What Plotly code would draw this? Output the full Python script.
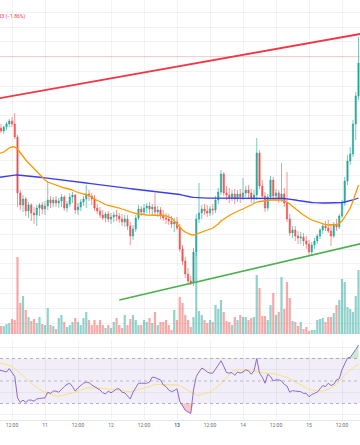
import numpy as np
import pandas as pd
import plotly.graph_objects as go

# ---------------- data (hourly candles) ----------------
times = pd.date_range("2024-05-10 07:00", periods=132, freq="h")

open_ = [1.869, 1.872, 1.869, 1.873, 1.876, 1.879, 1.876, 1.863, 1.807, 1.795,
         1.801, 1.789, 1.795, 1.787, 1.785, 1.792, 1.795, 1.791, 1.794, 1.800,
         1.797, 1.800, 1.797, 1.799, 1.803, 1.792, 1.796, 1.803, 1.805, 1.790,
         1.793, 1.798, 1.801, 1.806, 1.804, 1.801, 1.792, 1.789, 1.785, 1.782,
         1.786, 1.781, 1.783, 1.785, 1.784, 1.781, 1.778, 1.781, 1.774, 1.764,
         1.771, 1.782, 1.791, 1.788, 1.792, 1.794, 1.791, 1.793, 1.788, 1.790,
         1.785, 1.782, 1.781, 1.779, 1.776, 1.778, 1.772, 1.751, 1.739, 1.726,
         1.719, 1.717, 1.748, 1.781, 1.787, 1.791, 1.789, 1.787, 1.791, 1.790,
         1.800, 1.808, 1.826, 1.807, 1.805, 1.802, 1.806, 1.801, 1.806, 1.803,
         1.807, 1.810, 1.807, 1.801, 1.805, 1.847, 1.814, 1.804, 1.792, 1.803,
         1.820, 1.804, 1.807, 1.801, 1.806, 1.797, 1.781, 1.767, 1.770, 1.764,
         1.762, 1.763, 1.759, 1.756, 1.748, 1.755, 1.759, 1.764, 1.770, 1.774,
         1.772, 1.769, 1.764, 1.775, 1.773, 1.784, 1.797, 1.819, 1.839, 1.846,
         1.876, 1.904]
high = [1.875, 1.876, 1.874, 1.878, 1.881, 1.883, 1.887, 1.865, 1.810, 1.805,
        1.803, 1.798, 1.797, 1.793, 1.795, 1.797, 1.798, 1.799, 1.818, 1.804,
        1.803, 1.804, 1.802, 1.806, 1.805, 1.799, 1.807, 1.808, 1.806, 1.797,
        1.801, 1.804, 1.815, 1.810, 1.807, 1.805, 1.796, 1.793, 1.790, 1.788,
        1.789, 1.787, 1.788, 1.790, 1.787, 1.786, 1.785, 1.785, 1.778, 1.775,
        1.785, 1.795, 1.794, 1.796, 1.797, 1.798, 1.796, 1.807, 1.794, 1.793,
        1.790, 1.787, 1.786, 1.784, 1.782, 1.783, 1.776, 1.755, 1.743, 1.732,
        1.724, 1.752, 1.786, 1.817, 1.795, 1.796, 1.795, 1.794, 1.796, 1.804,
        1.812, 1.830, 1.828, 1.814, 1.812, 1.810, 1.811, 1.810, 1.811, 1.822,
        1.814, 1.815, 1.811, 1.810, 1.862, 1.850, 1.820, 1.808, 1.806, 1.824,
        1.823, 1.811, 1.810, 1.837, 1.812, 1.828, 1.786, 1.774, 1.774, 1.769,
        1.768, 1.767, 1.764, 1.760, 1.758, 1.762, 1.766, 1.772, 1.776, 1.779,
        1.780, 1.776, 1.778, 1.781, 1.786, 1.800, 1.823, 1.845, 1.853, 1.880,
        1.908, 1.963]
low = [1.866, 1.867, 1.866, 1.870, 1.873, 1.873, 1.861, 1.793, 1.790, 1.788,
       1.784, 1.782, 1.779, 1.776, 1.774, 1.784, 1.786, 1.785, 1.790, 1.792,
       1.793, 1.793, 1.792, 1.793, 1.789, 1.788, 1.793, 1.797, 1.786, 1.785,
       1.789, 1.794, 1.792, 1.799, 1.795, 1.789, 1.786, 1.782, 1.780, 1.778,
       1.778, 1.776, 1.778, 1.779, 1.777, 1.774, 1.773, 1.770, 1.755, 1.760,
       1.768, 1.780, 1.784, 1.786, 1.787, 1.786, 1.784, 1.784, 1.783, 1.781,
       1.779, 1.776, 1.775, 1.772, 1.768, 1.770, 1.748, 1.735, 1.722, 1.715,
       1.715, 1.714, 1.744, 1.777, 1.781, 1.785, 1.783, 1.784, 1.785, 1.787,
       1.796, 1.805, 1.804, 1.800, 1.797, 1.799, 1.796, 1.798, 1.797, 1.800,
       1.803, 1.801, 1.797, 1.796, 1.800, 1.811, 1.801, 1.788, 1.789, 1.799,
       1.800, 1.799, 1.797, 1.798, 1.793, 1.778, 1.764, 1.762, 1.759, 1.756,
       1.756, 1.754, 1.751, 1.744, 1.745, 1.751, 1.756, 1.761, 1.766, 1.769,
       1.767, 1.754, 1.762, 1.769, 1.771, 1.782, 1.794, 1.815, 1.835, 1.843,
       1.860, 1.900]
close = [1.872, 1.869, 1.873, 1.876, 1.879, 1.876, 1.863, 1.807, 1.795, 1.801,
         1.789, 1.795, 1.787, 1.785, 1.792, 1.795, 1.791, 1.794, 1.800, 1.797,
         1.800, 1.797, 1.799, 1.803, 1.792, 1.796, 1.803, 1.805, 1.790, 1.793,
         1.798, 1.801, 1.806, 1.804, 1.801, 1.792, 1.789, 1.785, 1.782, 1.786,
         1.781, 1.783, 1.785, 1.784, 1.781, 1.778, 1.781, 1.774, 1.764, 1.771,
         1.782, 1.791, 1.788, 1.792, 1.794, 1.791, 1.793, 1.788, 1.790, 1.785,
         1.782, 1.781, 1.779, 1.776, 1.778, 1.772, 1.751, 1.739, 1.726, 1.719,
         1.717, 1.748, 1.781, 1.787, 1.791, 1.789, 1.787, 1.791, 1.790, 1.800,
         1.808, 1.826, 1.807, 1.805, 1.802, 1.806, 1.801, 1.806, 1.803, 1.807,
         1.810, 1.807, 1.801, 1.805, 1.847, 1.814, 1.804, 1.792, 1.803, 1.820,
         1.804, 1.807, 1.801, 1.806, 1.797, 1.781, 1.767, 1.770, 1.764, 1.762,
         1.763, 1.759, 1.756, 1.748, 1.755, 1.759, 1.764, 1.770, 1.774, 1.772,
         1.769, 1.764, 1.775, 1.773, 1.784, 1.797, 1.819, 1.839, 1.846, 1.876,
         1.904, 1.937]
volume_k = [8, 8, 8, 10, 11, 15, 14, 77, 31, 38,
            24, 17, 13, 15, 11, 17, 10, 9, 26, 9,
            8, 5, 16, 19, 12, 7, 9, 12, 16, 12,
            9, 16, 22, 14, 9, 14, 9, 14, 9, 6,
            9, 6, 12, 16, 9, 6, 19, 9, 15, 19,
            14, 9, 9, 14, 12, 16, 11, 22, 9, 12,
            12, 14, 9, 4, 24, 14, 37, 31, 19, 14,
            7, 17, 81, 23, 19, 14, 11, 14, 12, 29,
            25, 34, 22, 13, 12, 9, 17, 14, 19, 17,
            17, 14, 16, 17, 59, 46, 18, 18, 14, 29,
            41, 19, 22, 57, 25, 52, 36, 13, 12, 8,
            12, 5, 7, 3, 4, 4, 14, 15, 16, 12,
            17, 17, 21, 29, 34, 55, 52, 27, 25, 22,
            38, 64]
ema_fast = [1.846, 1.847, 1.848, 1.850, 1.852, 1.853, 1.853, 1.851, 1.847, 1.843,
            1.840, 1.837, 1.834, 1.832, 1.829, 1.826, 1.823, 1.820, 1.818, 1.817,
            1.816, 1.8145, 1.8135, 1.813, 1.812, 1.8115, 1.811, 1.810, 1.8085, 1.8075,
            1.807, 1.806, 1.8055, 1.8045, 1.803, 1.801, 1.7995, 1.798, 1.797, 1.7955,
            1.7945, 1.794, 1.793, 1.7925, 1.792, 1.791, 1.790, 1.789, 1.788, 1.787,
            1.7865, 1.786, 1.786, 1.7855, 1.785, 1.785, 1.785, 1.785, 1.785, 1.785,
            1.7845, 1.784, 1.783, 1.782, 1.779, 1.776, 1.772, 1.770, 1.768, 1.7665,
            1.7655, 1.765, 1.766, 1.767, 1.7675, 1.769, 1.770, 1.7705, 1.772, 1.774,
            1.776, 1.779, 1.781, 1.783, 1.7845, 1.786, 1.7875, 1.789, 1.790, 1.791,
            1.7925, 1.794, 1.7955, 1.7965, 1.798, 1.7985, 1.799, 1.7995, 1.800, 1.800,
            1.800, 1.800, 1.800, 1.800, 1.799, 1.798, 1.796, 1.7935, 1.791, 1.789,
            1.787, 1.785, 1.783, 1.7815, 1.780, 1.779, 1.778, 1.777, 1.776, 1.7755,
            1.775, 1.775, 1.775, 1.7755, 1.7765, 1.779, 1.783, 1.787, 1.792, 1.799,
            1.807, 1.815]
ma_slow = [1.8225, 1.823, 1.8235, 1.824, 1.8243, 1.8245, 1.8248, 1.825, 1.8248, 1.8245,
           1.8242, 1.824, 1.8237, 1.8234, 1.823, 1.8228, 1.8225, 1.8222, 1.8219, 1.8216,
           1.8212, 1.8209, 1.8206, 1.8202, 1.8198, 1.8194, 1.819, 1.8187, 1.8184, 1.818,
           1.8177, 1.8173, 1.817, 1.8166, 1.8162, 1.8158, 1.8155, 1.8151, 1.8148, 1.8144,
           1.814, 1.8137, 1.8134, 1.813, 1.8127, 1.8124, 1.812, 1.8116, 1.8113, 1.811,
           1.8107, 1.8103, 1.810, 1.8097, 1.8094, 1.809, 1.8087, 1.8084, 1.808, 1.8077,
           1.8074, 1.8071, 1.8068, 1.8065, 1.8063, 1.806, 1.8055, 1.8048, 1.804, 1.8035,
           1.803, 1.8027, 1.8024, 1.8022, 1.802, 1.8019, 1.8018, 1.8018, 1.8018, 1.8018,
           1.8018, 1.8018, 1.8018, 1.8019, 1.802, 1.802, 1.802, 1.802, 1.802, 1.802,
           1.802, 1.802, 1.802, 1.802, 1.802, 1.802, 1.8019, 1.8018, 1.8018, 1.8018,
           1.8018, 1.8017, 1.8016, 1.8015, 1.8015, 1.8012, 1.801, 1.8005, 1.800, 1.7995,
           1.799, 1.7985, 1.798, 1.7978, 1.7975, 1.7973, 1.797, 1.797, 1.797, 1.797,
           1.797, 1.797, 1.797, 1.797, 1.7972, 1.7975, 1.798, 1.7985, 1.799, 1.800,
           1.801, 1.802]
rsi = [60, 59.5, 59, 58, 61, 58, 54, 35, 31, 33,
       31, 33, 33, 32, 34, 34.5, 35, 35, 40, 39,
       41, 41, 40, 43, 45, 47, 48, 45, 41, 44,
       46, 48, 49, 48.5, 46.5, 45, 44, 42, 39.5, 38.5,
       41, 39.5, 41, 43, 43, 40, 39.5, 37, 34, 40,
       44, 48, 48, 48, 48, 49, 53.5, 53, 52, 51,
       46.5, 45, 42, 40.5, 41.5, 43, 32, 28, 24, 22.5,
       21, 42, 54, 58, 61.5, 60, 58, 57, 57, 60.5,
       64, 68, 63, 57.5, 57, 57.5, 55, 58, 57, 58,
       60, 59, 56, 59, 70, 57, 53.5, 48, 56, 54,
       50, 51, 51, 50, 47, 45.5, 40, 41.5, 41, 40.5,
       40.5, 39, 39, 36, 38, 39, 40, 43, 46, 45,
       48, 46, 47, 51, 52, 60, 66, 70.5, 71, 74,
       78, 82]
rsi_signal = [66.5, 66, 65.5, 65, 64, 63, 61, 59, 57, 55,
              53, 50.5, 48, 46, 44, 42.5, 41, 40, 39, 38,
              37, 36.5, 36.5, 37, 37.5, 38, 38.5, 39.5, 40, 41,
              42, 43, 43.5, 44, 44, 44, 44, 44, 43.5, 43,
              43, 42.5, 42, 42, 42, 41.5, 41, 40.5, 40.5, 41,
              42, 42.5, 43, 43.5, 44.5, 45, 46, 47, 47, 47,
              47, 47, 46.5, 46.5, 46.5, 46.5, 46, 44.5, 43, 42,
              40, 38.5, 37.5, 37.5, 38, 38.5, 39, 40, 42, 43.5,
              46, 47.5, 50, 53, 56, 58.5, 59.5, 60, 60, 60,
              60, 59.5, 59, 58.5, 58, 58, 57.5, 57, 57, 57,
              56.5, 56, 55, 54.5, 54, 53.5, 52, 51, 49.5, 48,
              46.5, 45, 43.5, 42.5, 42, 41.5, 41, 41, 41, 41.5,
              42.5, 44, 45.5, 47, 49.5, 52, 55, 58, 60, 62,
              63.5, 65]

tick_times = ["2024-05-10 12:00", "2024-05-11 00:00", "2024-05-11 12:00",
              "2024-05-12 00:00", "2024-05-12 12:00", "2024-05-13 00:00",
              "2024-05-13 12:00", "2024-05-14 00:00", "2024-05-14 12:00",
              "2024-05-15 00:00", "2024-05-15 12:00"]
tick_text = ["12:00", "11", "12:00", "12", "12:00", "<b>13</b>",
             "12:00", "14", "12:00", "15", "12:00"]

# drawn trend lines (time, price)
resist_t = ["2024-05-10 02:00", "2024-05-15 22:00"]
resist_p = [1.8992, 1.9677]
support_t = ["2024-05-12 03:00", "2024-05-15 22:00"]
support_p = [1.7000, 1.7583]
ref_price = 1.9433
change_label = "−0.0233 (−1.86%)"

# ---------------- styling ----------------
UP, DOWN = "#26a69a", "#ef5350"
GRID = "rgba(42,46,57,0.06)"
X_RANGE = ["2024-05-10 07:38:11", "2024-05-15 18:32:44"]
FONT = "Roboto, Liberation Sans, sans-serif"

vol_colors = ["rgba(38,166,154,0.5)" if c >= o else "rgba(239,83,80,0.5)"
              for o, c in zip(open_, close)]

fig = go.Figure()

fig.add_trace(go.Bar(x=times, y=volume_k, marker=dict(color=vol_colors, line_width=0),
                     xaxis="x", yaxis="y", hoverinfo="skip"))

fig.add_trace(go.Candlestick(
    x=times, open=open_, high=high, low=low, close=close,
    increasing=dict(line=dict(color=UP, width=0.6), fillcolor=UP),
    decreasing=dict(line=dict(color=DOWN, width=0.6), fillcolor=DOWN),
    whiskerwidth=0, xaxis="x", yaxis="y3", hoverinfo="skip"))

fig.add_trace(go.Scatter(x=times, y=ma_slow, mode="lines",
                         line=dict(color="#3d3df0", width=1.3),
                         xaxis="x", yaxis="y3", hoverinfo="skip"))
fig.add_trace(go.Scatter(x=times, y=ema_fast, mode="lines",
                         line=dict(color="#ff9800", width=1.3),
                         xaxis="x", yaxis="y3", hoverinfo="skip"))

# trend lines
fig.add_trace(go.Scatter(x=resist_t, y=resist_p, mode="lines",
                         line=dict(color="#f23645", width=1.8),
                         xaxis="x", yaxis="y3", hoverinfo="skip"))
fig.add_trace(go.Scatter(x=support_t, y=support_p, mode="lines",
                         line=dict(color="#4caf50", width=1.6),
                         xaxis="x", yaxis="y3", hoverinfo="skip"))

# RSI pane
rsi_arr = np.array(rsi, dtype=float)
fig.add_trace(go.Scatter(x=times, y=[30] * len(times), mode="lines",
                         line=dict(width=0, color="rgba(0,0,0,0)"),
                         xaxis="x2", yaxis="y2", hoverinfo="skip"))
fig.add_trace(go.Scatter(x=times, y=np.minimum(rsi_arr, 30), mode="lines",
                         line=dict(width=0, color="rgba(0,0,0,0)"), fill="tonexty",
                         fillcolor="rgba(242,54,69,0.28)",
                         xaxis="x2", yaxis="y2", hoverinfo="skip"))
fig.add_trace(go.Scatter(x=times, y=[70] * len(times), mode="lines",
                         line=dict(width=0, color="rgba(0,0,0,0)"),
                         xaxis="x2", yaxis="y2", hoverinfo="skip"))
fig.add_trace(go.Scatter(x=times, y=np.maximum(rsi_arr, 70), mode="lines",
                         line=dict(width=0, color="rgba(0,0,0,0)"), fill="tonexty",
                         fillcolor="rgba(76,175,80,0.28)",
                         xaxis="x2", yaxis="y2", hoverinfo="skip"))
fig.add_trace(go.Scatter(x=times, y=rsi_signal, mode="lines",
                         line=dict(color="#f7e27e", width=1),
                         xaxis="x2", yaxis="y2", hoverinfo="skip"))
fig.add_trace(go.Scatter(x=times, y=rsi, mode="lines",
                         line=dict(color="#8b6bd0", width=1),
                         xaxis="x2", yaxis="y2", hoverinfo="skip"))

shapes = [
    dict(type="rect", xref="x2 domain", yref="y2", x0=0, x1=1, y0=30, y1=70,
         fillcolor="rgba(126,87,194,0.10)", line_width=0, layer="below"),
    dict(type="line", xref="x2 domain", yref="y2", x0=0, x1=1, y0=70, y1=70,
         line=dict(color="rgba(120,123,134,0.55)", width=1, dash="dot")),
    dict(type="line", xref="x2 domain", yref="y2", x0=0, x1=1, y0=50, y1=50,
         line=dict(color="rgba(120,123,134,0.45)", width=1, dash="dot")),
    dict(type="line", xref="x2 domain", yref="y2", x0=0, x1=1, y0=30, y1=30,
         line=dict(color="rgba(120,123,134,0.55)", width=1, dash="dot")),
    dict(type="line", xref="x domain", yref="y3", x0=0, x1=1, y0=ref_price, y1=ref_price,
         line=dict(color="rgba(242,54,69,0.22)", width=1), layer="below"),
]

fig.update_layout(
    width=360, height=445,
    margin=dict(l=0, r=0, t=0, b=25, pad=0, autoexpand=False),
    paper_bgcolor="white", plot_bgcolor="white",
    showlegend=False, font=dict(family=FONT),
    bargap=0.2, boxgap=0.35,
    xaxis=dict(type="date", range=X_RANGE, anchor="y", tickvals=tick_times,
               showticklabels=False, showgrid=True, gridcolor=GRID, gridwidth=1,
               zeroline=False, ticks="", rangeslider=dict(visible=False)),
    xaxis2=dict(type="date", range=X_RANGE, anchor="y2", matches="x",
                tickvals=tick_times, ticktext=tick_text, showgrid=True,
                gridcolor=GRID, gridwidth=1, zeroline=False, ticks="",
                tickfont=dict(size=5, color="#6a6d78", family=FONT),
                showline=True, linecolor="rgba(42,46,57,0.12)", linewidth=1),
    yaxis=dict(domain=[0.2, 1], range=[-2, 334], visible=False, showgrid=False),
    yaxis3=dict(overlaying="y", anchor="x", side="right", range=[1.664, 2.0],
                tick0=ref_price, dtick=0.0148, showgrid=True, gridcolor=GRID,
                gridwidth=1, showticklabels=False, zeroline=False, ticks=""),
    yaxis2=dict(domain=[0, 0.1905], range=[15.33, 86.44], tickvals=[20, 40, 60, 80],
                showgrid=True, gridcolor=GRID, gridwidth=1, showticklabels=False,
                zeroline=False, ticks=""),
    shapes=shapes,
    annotations=[dict(text=change_label, xref="paper", yref="paper",
                      x=27 / 360, y=1 - 17 / 420, xanchor="right", yanchor="middle",
                      showarrow=False, font=dict(size=5, color="#f23645", family=FONT))],
)

fig.write_html("out.html", config={"displayModeBar": False},
               post_script="document.body.style.margin='0px';"
                           "document.body.style.overflow='hidden';")
